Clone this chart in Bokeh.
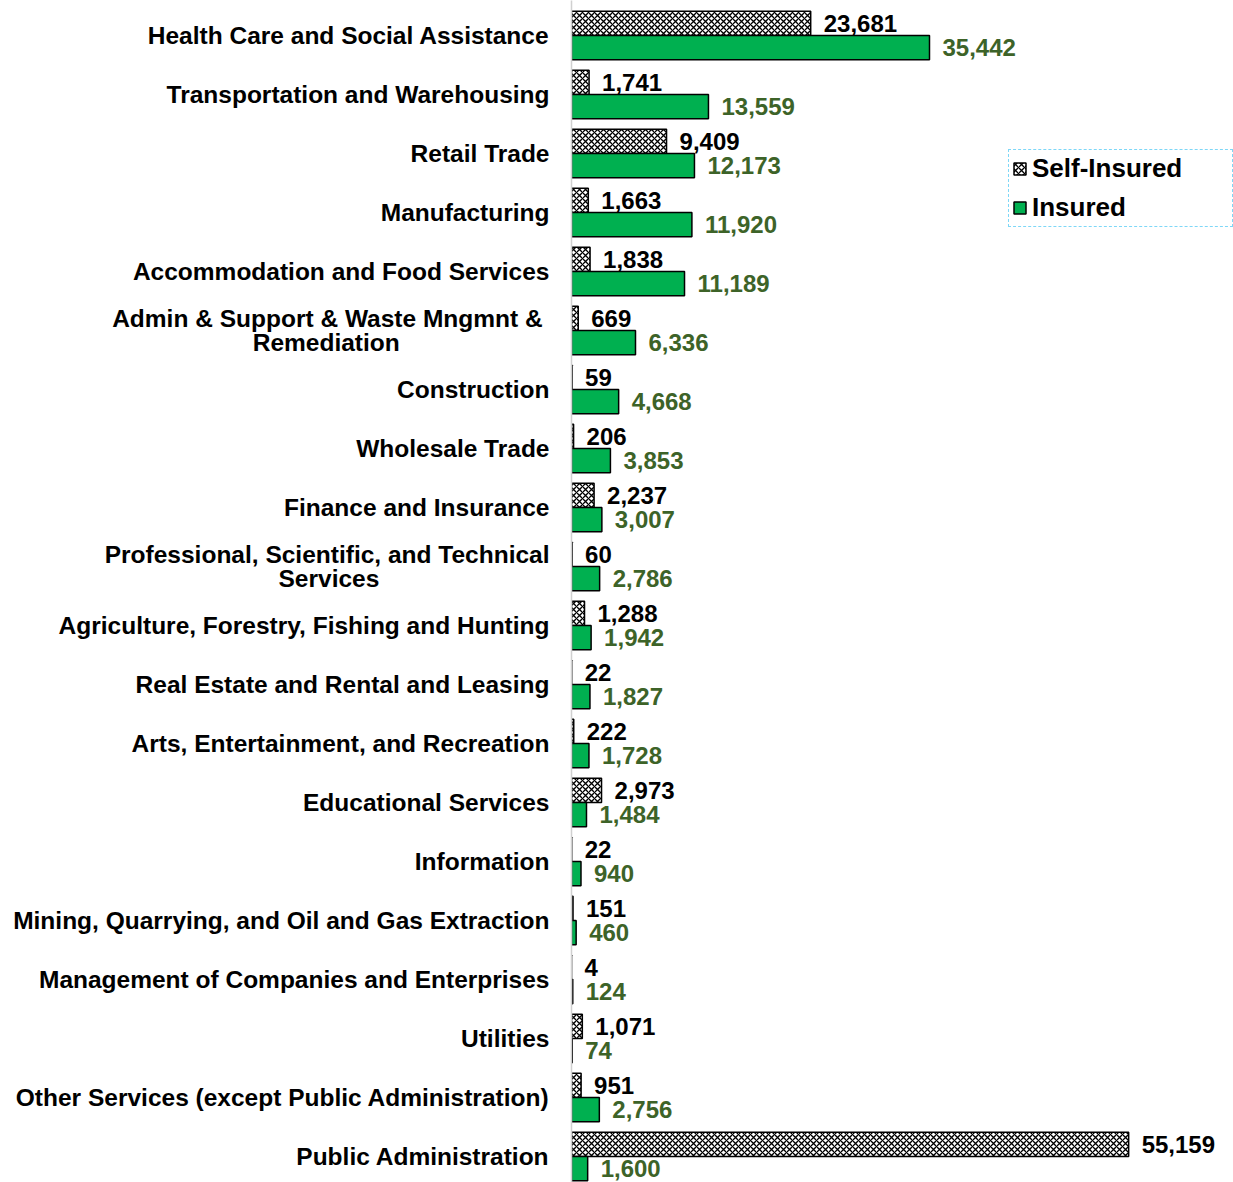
from bokeh.plotting import figure
from bokeh.models import ColumnDataSource, Range1d, FixedTicker, Legend, LegendItem
from bokeh.core.properties import value
from bokeh.embed import file_html
from bokeh.resources import INLINE

NB = "\u00a0"
categories = [
    "Health Care and Social Assistance",
    "Transportation and Warehousing",
    "Retail Trade",
    "Manufacturing",
    "Accommodation and Food Services",
    "Admin & Support & Waste Mngmnt &" + NB + "\nRemediation" + NB * 22,
    "Construction",
    "Wholesale Trade",
    "Finance and Insurance",
    "Professional, Scientific, and Technical\nServices" + NB * 25,
    "Agriculture, Forestry, Fishing and Hunting",
    "Real Estate and Rental and Leasing",
    "Arts, Entertainment, and Recreation",
    "Educational Services",
    "Information",
    "Mining, Quarrying, and Oil and Gas Extraction",
    "Management of Companies and Enterprises",
    "Utilities",
    "Other Services (except Public Administration)",
    "Public Administration",
]
self_insured = [23681, 1741, 9409, 1663, 1838, 669, 59, 206, 2237, 60,
                1288, 22, 222, 2973, 22, 151, 4, 1071, 951, 55159]
insured = [35442, 13559, 12173, 11920, 11189, 6336, 4668, 3853, 3007, 2786,
           1942, 1827, 1728, 1484, 940, 460, 124, 74, 2756, 1600]

pos = list(range(len(categories)))
BAR_H = 0.41
FONT = "Liberation Sans"

src_self = ColumnDataSource(dict(
    y=[p_ - BAR_H / 2 for p_ in pos], v=self_insured,
    lbl=[f"{v:,}" for v in self_insured]))
src_ins = ColumnDataSource(dict(
    y=[p_ + BAR_H / 2 for p_ in pos], v=insured,
    lbl=[f"{v:,}" for v in insured]))

p = figure(width=1233, height=1182, output_backend="svg", toolbar_location=None,
           x_range=Range1d(0, 65538), y_range=Range1d(19.441, -0.5932),
           x_axis_location=None, min_border=0, min_border_left=571)
p.outline_line_color = None
p.grid.visible = False
p.background_fill_color = "white"

r_self = p.hbar(y="y", left=0, right="v", height=BAR_H, source=src_self,
                fill_color="white", hatch_pattern="diagonal_cross",
                hatch_color="black", hatch_scale=6, hatch_weight=1.3,
                line_color="black", line_width=1.5)
r_ins = p.hbar(y="y", left=0, right="v", height=BAR_H, source=src_ins,
               fill_color="#00B050", line_color="black", line_width=1.5)

p.text(x="v", y="y", text="lbl", source=src_self, x_offset=13,
       text_align="left", text_baseline="middle", text_color="black",
       text_font=value(FONT), text_font_style="bold", text_font_size="24px")
p.text(x="v", y="y", text="lbl", source=src_ins, x_offset=13,
       text_align="left", text_baseline="middle", text_color="#3D6328",
       text_font=value(FONT), text_font_style="bold", text_font_size="24px")

ax = p.yaxis[0]
ax.ticker = FixedTicker(ticks=pos)
ax.major_label_overrides = {i: c for i, c in zip(pos, categories)}
ax.major_label_text_font = FONT
ax.major_label_text_font_style = "bold"
ax.major_label_text_font_size = "24.5px"
ax.major_label_text_line_height = 0.92
ax.major_label_text_color = "black"
ax.major_tick_out = 0
ax.major_tick_in = 0
ax.minor_tick_out = 0
ax.minor_tick_in = 0
ax.major_label_standoff = 22
ax.axis_line_color = "#D0D0D0"
ax.axis_line_width = 1.5

legend = Legend(items=[LegendItem(label="Self-Insured", renderers=[r_self]),
                       LegendItem(label="Insured", renderers=[r_ins])],
                location=(437, 955), margin=0, padding=3, spacing=8,
                glyph_width=15, glyph_height=15, label_standoff=5,
                label_height=25, label_width=197,
                label_text_font=FONT, label_text_font_style="bold",
                label_text_font_size="26px", label_text_color="black",
                border_line_color="#00B0F0", border_line_dash="5 3",
                border_line_width=1.5, background_fill_alpha=1.0)
p.add_layout(legend)

open("out.html", "w").write(file_html(p, INLINE))
